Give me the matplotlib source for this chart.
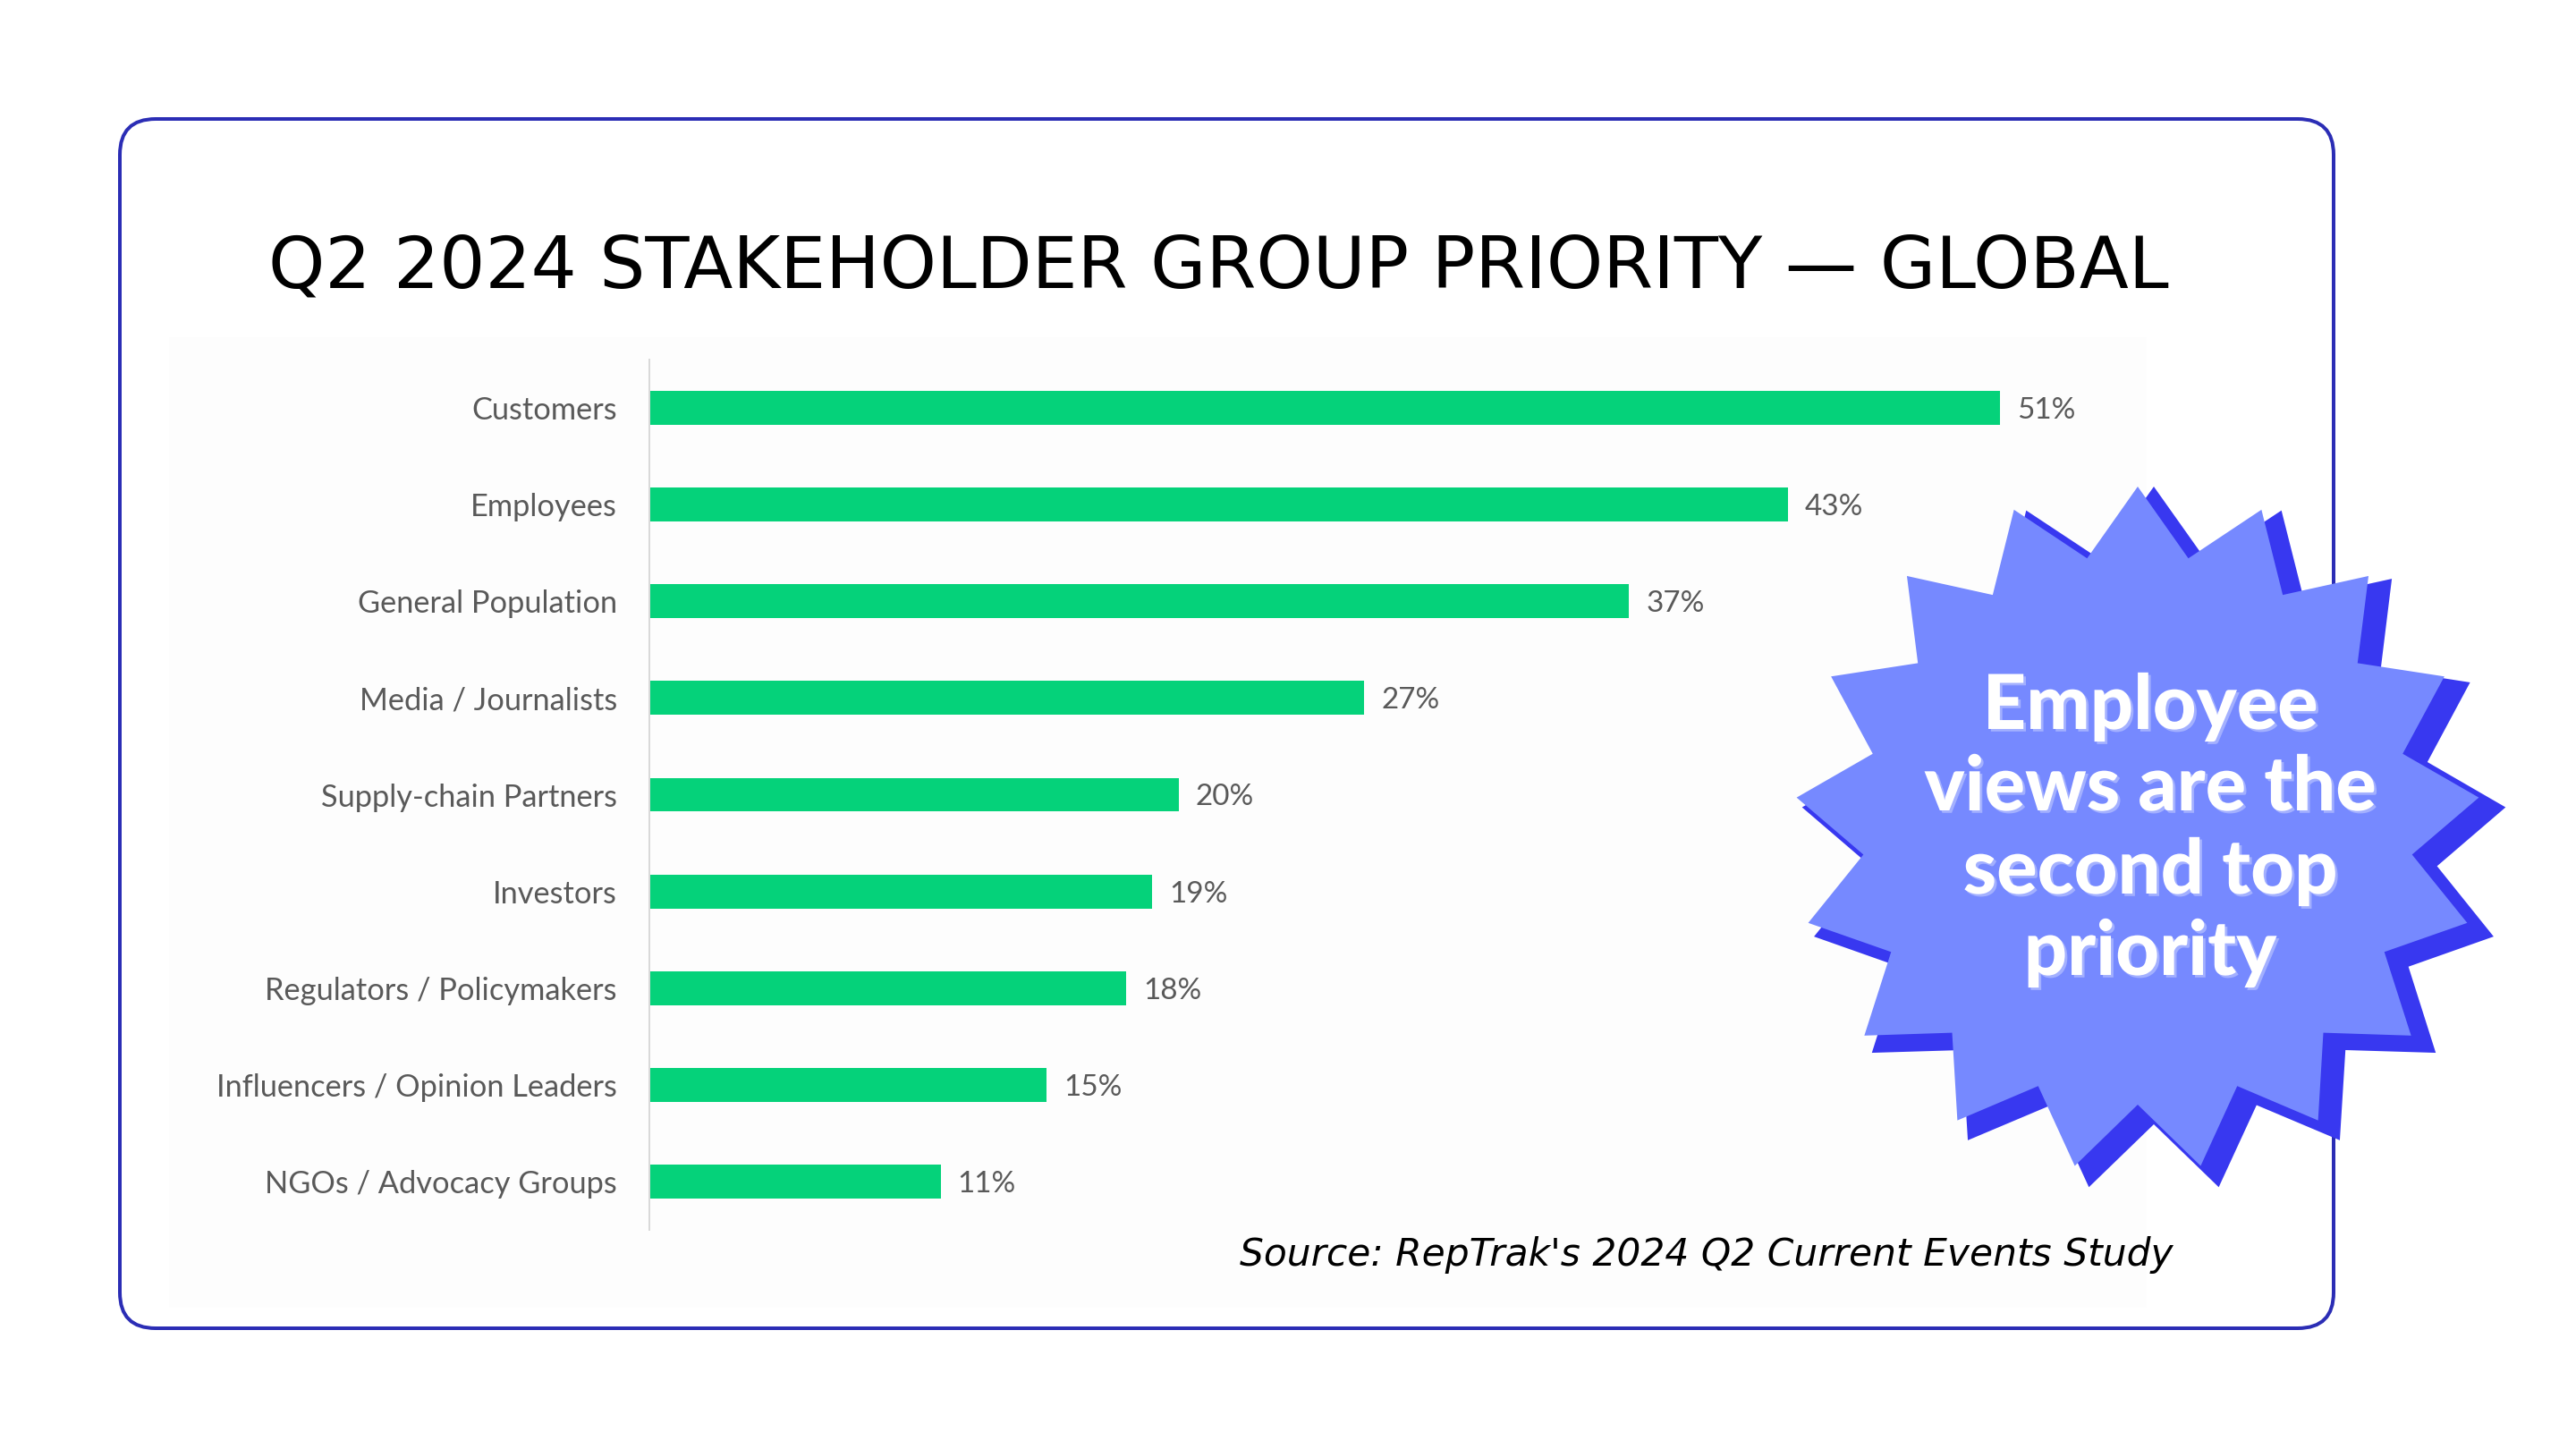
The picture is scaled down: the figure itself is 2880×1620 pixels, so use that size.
import matplotlib
matplotlib.use('Agg')
import matplotlib.pyplot as plt
import numpy as np
from matplotlib.patches import FancyBboxPatch, Polygon, Rectangle
import matplotlib.patheffects as pe

# ---------------- data ----------------
categories = ["Customers", "Employees", "General Population", "Media / Journalists",
              "Supply-chain Partners", "Investors", "Regulators / Policymakers",
              "Influencers / Opinion Leaders", "NGOs / Advocacy Groups"]
values = [51, 43, 37, 27, 20, 19, 18, 15, 11]
value_labels = [f"{v}%" for v in values]
title_text = "Q2 2024 STAKEHOLDER GROUP PRIORITY \u2014 GLOBAL"
source_text = "Source: RepTrak's 2024 Q2 Current Events Study"
callout_lines = ["Employee", "views are the", "second top", "priority"]

# ---------------- styles ----------------
GREEN = '#05D27A'
BORDER = '#2B2DB5'
STAR = '#7689FF'
STAR_SHADOW = '#3838F0'
LABEL_GREY = '#595959'

W, H, DPI = 2880, 1620, 100
fig = plt.figure(figsize=(W / DPI, H / DPI), dpi=DPI)
fig.patch.set_facecolor('white')
PT = 72 / DPI  # points per pixel


def px_axes(x0, y0, x1, y1, zorder):
    return fig.add_axes([x0 / W, 1 - y1 / H, (x1 - x0) / W, (y1 - y0) / H], zorder=zorder)


# background canvas
bg = fig.add_axes([0, 0, 1, 1], zorder=0)
bg.set_xlim(0, W); bg.set_ylim(H, 0); bg.axis('off')
bg.add_patch(FancyBboxPatch((134, 133), 2609 - 134, 1485 - 133,
                            boxstyle='round,pad=0,rounding_size=40',
                            facecolor='white', edgecolor=BORDER, lw=4 * PT))
bg.add_patch(Rectangle((189, 377), 2400 - 189, 1462 - 377, facecolor='#FDFDFD',
                       edgecolor='none'))

# bar chart axes
px_per = 29.6
ax_x0, ax_x1 = 726, 2600
ax = px_axes(ax_x0, 402, ax_x1, 1375, zorder=2)
ax.set_facecolor('none')
y = np.arange(len(categories))
ax.barh(y, values, height=0.35, color=GREEN)
ax.set_xlim(0, (ax_x1 - ax_x0) / px_per)
ax.set_ylim(len(categories) - 0.5, -0.5)
ax.set_xticks([])
ax.set_yticks(y, labels=categories)
for s in ['top', 'right', 'bottom']:
    ax.spines[s].set_visible(False)
ax.spines['left'].set_color('#D9D9D9')
ax.spines['left'].set_linewidth(2 * PT)
ax.tick_params(axis='y', length=0, pad=36 * PT, colors=LABEL_GREY)

fig.canvas.draw()
r = fig.canvas.get_renderer()

# fit category label font size to reference width of the longest label
tmp = fig.text(0, 0, "Influencers / Opinion Leaders", family='Lato', fontsize=24)
w = tmp.get_window_extent(r).width
lab_fs = 24 * 448 / w
tmp.remove()
for lab in ax.get_yticklabels():
    lab.set_family('Lato')
    lab.set_fontsize(lab_fs)
    lab.set_color(LABEL_GREY)

for i, (v, lbl) in enumerate(zip(values, value_labels)):
    ax.annotate(lbl, (v, i), xytext=(19 * PT, 0), textcoords='offset points',
                va='center_baseline', ha='left', family='Lato', fontsize=lab_fs * 0.97,
                color=LABEL_GREY)

# overlay canvas
ov = fig.add_axes([0, 0, 1, 1], zorder=3)
ov.set_xlim(0, W); ov.set_ylim(H, 0); ov.axis('off'); ov.set_facecolor('none')


def star_points(cx, cy, R, Ri, n=17):
    pts = []
    for k in range(n):
        a = np.deg2rad(90 + k * 360 / n)
        pts.append((cx + R * np.cos(a), cy - R * np.sin(a)))
        a2 = np.deg2rad(90 + (k + 0.5) * 360 / n)
        pts.append((cx + Ri * np.cos(a2), cy - Ri * np.sin(a2)))
    return pts


ov.add_patch(Polygon(star_points(2408, 939, 395, 318), closed=True,
                     facecolor=STAR_SHADOW, edgecolor='none'))
ov.add_patch(Polygon(star_points(2390, 927, 383, 308), closed=True,
                     facecolor=STAR, edgecolor='none'))

# title
t = ov.text((301 + 2424) / 2, 322, title_text, ha='center', va='baseline',
            family='DejaVu Sans', fontsize=57, color='black')
fig.canvas.draw()
w = t.get_window_extent(r).width
t.set_fontsize(57 * 2123 / w)

# source
s = ov.text(2430, 1415, source_text, ha='right', va='baseline',
            family='DejaVu Sans', style='italic', fontsize=22, color='black')
w = s.get_window_extent(r).width
s.set_fontsize(22 * 1041 / w)

# callout text
baselines = [815, 906, 999, 1090]
tmp = ov.text(0, 0, callout_lines[1], family='Lato', fontweight='black', fontsize=40)
w = tmp.get_window_extent(r).width
call_fs = 40 * 505 / w
tmp.remove()
for line, yb in zip(callout_lines, baselines):
    ov.text(2404, yb, line, ha='center', va='baseline', family='Lato',
            fontweight='black', fontsize=call_fs, color='white',
            path_effects=[pe.SimplePatchShadow(offset=(2, -2), shadow_rgbFace='#A3B0FF',
                                               alpha=1.0), pe.Normal()])

fig.savefig('out.png', dpi=DPI, facecolor='white')
